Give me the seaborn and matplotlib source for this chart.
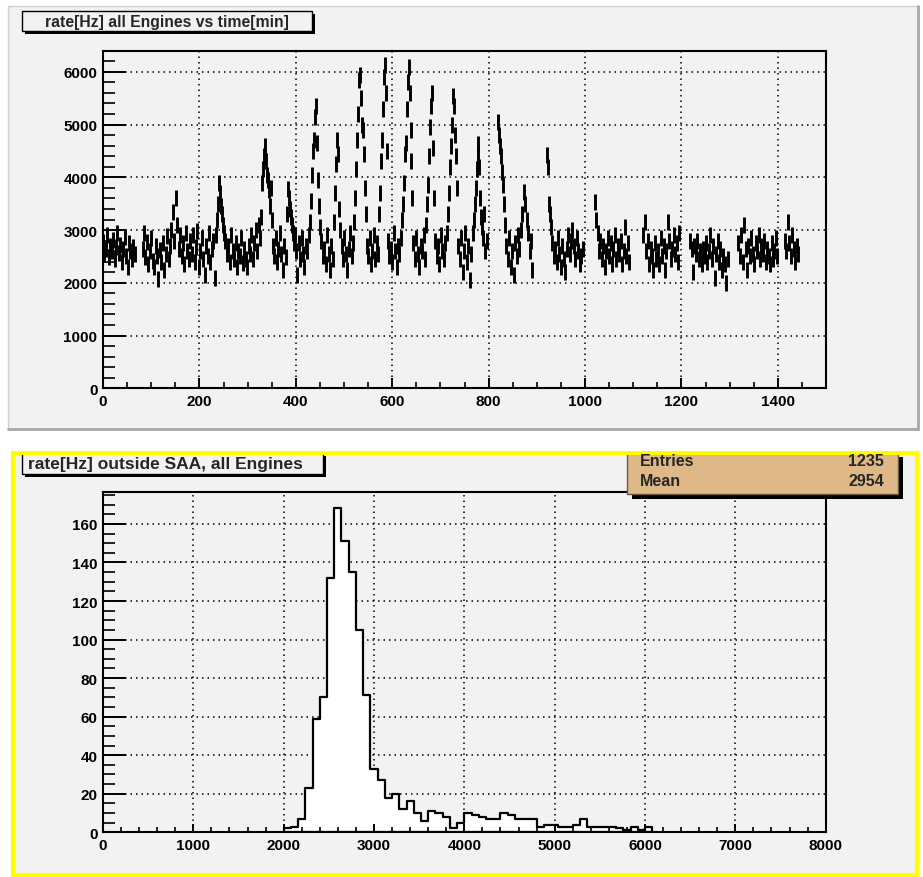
import numpy as np
import pandas as pd
import matplotlib
matplotlib.use("Agg")
import matplotlib.pyplot as plt
import seaborn as sns
from matplotlib.patches import Rectangle
from matplotlib.ticker import MultipleLocator

# ---------------- data ----------------
time_min = [
    0, 3, 6, 9, 12, 15, 18, 21, 24, 27, 30, 33, 36, 39, 42, 45, 48, 51, 54, 57, 60, 63, 66,
    82, 85, 88, 91, 94, 97, 100, 103, 106, 109, 112, 115, 118, 121, 124, 127, 130, 133, 136, 139,
    142, 145, 148, 151, 154, 157, 160, 163, 166, 169, 172, 175, 178, 181, 184, 187, 190, 193, 196,
    199, 202, 205, 208, 211, 214, 217, 220, 223, 226, 229, 232,
    235, 237, 239, 241, 243, 245, 247, 249, 251,
    254, 257, 260, 263, 266, 269, 272, 275, 278, 281, 284, 287, 290, 293, 296, 299, 302, 305, 308,
    311, 314, 317, 320, 323, 326,
    328, 330, 332, 334, 336, 338, 340, 342, 344, 346, 348, 350,
    352, 355, 358, 361, 364, 367, 370, 373, 376, 379,
    382, 384, 386, 388, 390, 392, 394, 396, 398,
    400, 403, 406, 409, 412, 415, 418, 421, 424, 427,
    430, 432, 434, 436, 438, 440, 442, 444, 446, 448, 450,
    453, 456, 459, 462, 465, 468, 471, 474, 477,
    480, 482, 484, 486, 488, 490, 492,
    495, 498, 501, 504, 507, 510, 513, 516, 519,
    521, 523, 525, 527, 529, 531, 533, 535, 537, 539, 541, 543, 545,
    547, 550, 553, 556, 559, 562, 565, 568, 571,
    573, 575, 577, 579, 581, 583, 585, 587, 589,
    591, 594, 597, 600, 603, 606, 609, 612, 615, 618,
    620, 622, 624, 626, 628, 630, 632, 634, 636, 638, 640, 642,
    644, 647, 650, 653, 656, 659, 662, 665, 668,
    670, 672, 674, 676, 678, 680, 682, 684, 686,
    689, 692, 695, 698, 701, 704, 707, 710, 713,
    716, 718, 720, 722, 724, 726, 728, 730, 732, 734,
    737, 740, 743, 746, 749, 752, 755, 758, 761, 764,
    767, 769, 771, 773, 775, 777, 779, 781, 783, 785, 787, 789, 791,
    793, 796,
    820, 822, 824, 826, 828, 830, 832, 834,
    837, 840, 843, 846, 849, 852, 855, 858, 861, 864, 867, 870, 873, 876, 879, 882, 885, 888, 891,
    921, 923, 925, 927, 929,
    932, 935, 938, 941, 944, 947, 950, 953, 956, 959, 962, 965, 968, 971, 974, 977, 980, 983, 986,
    989, 992, 995,
    1021, 1023, 1026, 1029, 1032, 1035, 1038, 1041, 1044, 1047, 1050, 1053, 1056, 1059, 1062, 1065,
    1068, 1071, 1074, 1077, 1080, 1083, 1086, 1089, 1092,
    1121, 1124, 1127, 1130, 1133, 1136, 1139, 1142, 1145, 1148, 1151, 1154, 1157, 1160, 1163, 1166,
    1169, 1172, 1175, 1178, 1181, 1184, 1187, 1190, 1193, 1196,
    1218, 1221, 1224, 1227, 1230, 1233, 1236, 1239, 1242, 1245, 1248, 1251, 1254, 1257, 1260, 1263,
    1266, 1269, 1272, 1275, 1278, 1281, 1284, 1287, 1290, 1293, 1296,
    1318, 1321, 1324, 1327, 1330, 1333, 1336, 1339, 1342, 1345, 1348, 1351, 1354, 1357, 1360, 1363,
    1366, 1369, 1372, 1375, 1378, 1381, 1384, 1387, 1390, 1393, 1396, 1399,
    1415, 1418, 1421, 1424, 1427, 1430, 1433, 1436, 1439, 1441,
]
rate_hz = [
    2780, 2550, 2650, 2900, 2480, 2700, 2600, 2820, 2450, 2680, 2950, 2560, 2720, 2400, 2640, 2870, 2500, 2300, 2760, 2600, 2450, 2680, 2550,
    2650, 2950, 2480, 2780, 2350, 2600, 2850, 2420, 2300, 2700, 2500, 2080, 2620, 2400, 2750, 2250, 2550, 2880, 2450, 2700,
    3000, 3350, 2800, 3600, 3100, 2650, 2900, 2500, 2750, 2350, 2950, 2600, 2450, 2800, 2550, 2900, 2400, 2680, 2980,
    2300, 2600, 2850, 2450, 2150, 2700, 2500, 2950, 2400, 2650, 2800, 2100,
    2900, 3200, 3500, 3900, 3700, 3450, 3300, 3100, 2950,
    2800, 2550, 2700, 2400, 2900, 2600, 2450, 2750, 2300, 2600, 2500, 2850, 2380, 2650, 2450, 2300, 2700, 2550, 2900,
    2450, 2750, 3000, 2600, 3100, 2850,
    3250, 3900, 4150, 4400, 4600, 4300, 4050, 3950, 3750, 3450, 3800, 3200,
    2700, 2500, 2850, 2400, 2650, 2950, 2550, 2250, 2700, 2480,
    3300, 3780, 3600, 3400, 3250, 3100, 2950, 2750, 2900,
    2600, 2150, 2750, 2450, 2850, 2550, 2300, 2700, 2600, 2900,
    3150, 3550, 4050, 4500, 4700, 5150, 5360, 4650, 3950, 3450, 3050,
    2800, 2500, 2650, 2350, 2900, 2550, 2250, 2700, 2450,
    3150, 3700, 4250, 4700, 4450, 3400, 3000,
    2700, 2450, 2850, 2550, 2250, 2650, 2950, 2500, 2750,
    3150, 3600, 4150, 4700, 5200, 5850, 5930, 5500, 5000, 4900, 4450, 3800, 3300,
    2700, 2500, 2850, 2350, 2600, 2900, 2450, 2750, 2550,
    3300, 3700, 4300, 4700, 5300, 5900, 6120, 5600, 4500,
    2800, 2500, 2650, 2400, 2950, 2600, 2300, 2700, 2550, 2850,
    3200, 3500, 3900, 4450, 4650, 5300, 5800, 6090, 5600, 4900, 4300, 3600,
    2750, 2450, 2850, 2550, 2300, 2700, 2600, 2900, 2450,
    3100, 3500, 3850, 4400, 4950, 5350, 5600, 4550, 3600,
    2800, 2500, 2700, 2350, 2900, 2600, 2450, 2750, 2950,
    3300, 3700, 4200, 4600, 5000, 5550, 5350, 4800, 4400, 3800,
    2700, 2450, 2850, 2200, 2600, 2950, 2400, 2700, 2050, 2550,
    2950, 3200, 3500, 3800, 4150, 4450, 4637, 4200, 3600, 3250, 3050, 2850, 3300,
    2600, 2800,
    5050, 4800, 4600, 4400, 4100, 3850, 3500, 3100,
    2700, 2450, 2850, 2300, 2600, 2150, 2750, 2500, 2900, 2650, 3000, 3300, 3718, 3500, 3200, 2950, 2600, 2800, 2250,
    4420, 4200, 3500, 3300, 3050,
    2750, 2500, 2650, 2400, 2850, 2550, 2300, 2700, 2450, 2200, 2650, 2900, 2550, 2800, 3000, 2700, 2450, 2850, 2600,
    2350, 2500, 2650,
    3530, 3200, 2950, 2600, 2800, 2450, 2700, 2300, 2600, 2850, 2500, 2750, 2350, 2650, 2900, 2450,
    2700, 2550, 2800, 2350, 2600, 3050, 2500, 2750, 2400,
    2900, 3150, 2600, 2800, 2350, 2650, 2500, 2250, 2750, 2450, 2600, 2350, 2850, 2500, 2700, 2250,
    2600, 3150, 2800, 2450, 2650, 2900, 2550, 2750, 2400, 2950,
    2800, 2650, 2200, 2700, 2550, 2800, 2450, 2600, 2350, 2650, 2500, 2750, 2400, 2600, 2900, 2450,
    2700, 2100, 2550, 2800, 2400, 2650, 2250, 2500, 2350, 2000, 2450,
    2750, 2500, 2900, 2400, 3100, 2650, 2250, 2700, 2500, 2850, 2550, 2350, 2750, 2600, 2900, 2450,
    2700, 2550, 2800, 2400, 2650, 2500, 2350, 2750, 2450, 2600, 2850, 2500,
    2800, 2600, 3150, 2750, 2500, 2900, 2650, 2400, 2700, 2550,
]

hist_first_edge = 2000
hist_bin_width = 80
hist_counts = [
    2, 3, 7, 23, 59, 70, 132, 168, 151, 135, 105, 71, 33, 27, 18, 20, 12, 16, 10, 6,
    11, 10, 8, 2, 5, 10, 9, 8, 7, 7, 10, 9, 7, 7, 7, 3, 4, 4, 3, 3,
    4, 7, 3, 3, 3, 3, 2, 1, 3, 1, 3,
]
stats_labels = ["Entries", "Mean"]
stats_values = ["1235", "2954"]
title_top = "rate[Hz] all Engines vs time[min]"
title_bottom = "rate[Hz] outside SAA, all Engines"

# ---------------- figure ----------------
W, H = 923, 878
sns.set_style("ticks")
plt.rcParams["font.family"] = ["Liberation Sans", "DejaVu Sans"]
plt.rcParams["axes.axisbelow"] = False
fig = plt.figure(figsize=(W / 100, H / 100), dpi=100)
fig.patch.set_facecolor("white")

PAD_BG = "#f2f2f2"


def fx(px):
    return px / W


def fy(py):
    return 1 - py / H


def frect(x0, y0, x1, y1, **kw):
    r = Rectangle((fx(x0), fy(y1)), fx(x1) - fx(x0), fy(y0) - fy(y1),
                  transform=fig.transFigure, **kw)
    fig.add_artist(r)
    return r


# pads
frect(8, 7, 918, 430, facecolor=PAD_BG, edgecolor="#d0d0d0", linewidth=1, zorder=-2)
fig.add_artist(plt.Line2D([fx(8), fx(918)], [fy(430), fy(430)], transform=fig.transFigure,
                          color="#a8a8a8", linewidth=2, zorder=-1))
fig.add_artist(plt.Line2D([fx(918), fx(918)], [fy(7), fy(430)], transform=fig.transFigure,
                          color="#a8a8a8", linewidth=2, zorder=-1))
frect(13, 454, 917, 876, facecolor=PAD_BG, edgecolor="#ffff00", linewidth=3, zorder=-2)


def make_axes(rect_px, xlim, ylim, xmaj, xmin, ymaj, ymin):
    x0, y0, x1, y1 = rect_px
    pos = [fx(x0), fy(y1), fx(x1) - fx(x0), fy(y0) - fy(y1)]
    bg = fig.add_axes(pos, zorder=1)
    ax = fig.add_axes(pos, zorder=2)
    for a in (bg, ax):
        a.set_xlim(*xlim)
        a.set_ylim(*ylim)
        a.xaxis.set_major_locator(MultipleLocator(xmaj))
        a.xaxis.set_minor_locator(MultipleLocator(xmin))
        a.yaxis.set_major_locator(MultipleLocator(ymaj))
        a.yaxis.set_minor_locator(MultipleLocator(ymin))
    bg.set_facecolor(PAD_BG)
    bg.grid(True, which="major", color="black", linestyle=(0, (1, 2.6)), linewidth=1.1)
    bg.tick_params(which="both", length=0, labelbottom=False, labelleft=False)
    for s in bg.spines.values():
        s.set_visible(False)
    ax.patch.set_visible(False)
    return ax


def finish(ax, xlim, ylim, xtick_len, ytick_len):
    ax.set_xlim(*xlim)
    ax.set_ylim(*ylim)
    ax.set_xlabel("")
    ax.set_ylabel("")
    ax.set_axisbelow(False)
    for s in ax.spines.values():
        s.set_visible(True)
        s.set_color("black")
        s.set_linewidth(1.5)
    ax.tick_params(which="both", bottom=True, left=True, top=False, right=False)
    ax.tick_params(which="major", direction="in", width=1.4, colors="black",
                   labelsize=11, pad=4)
    ax.tick_params(which="minor", direction="in", width=1.2, colors="black")
    ax.tick_params(axis="x", which="major", length=xtick_len[0])
    ax.tick_params(axis="x", which="minor", length=xtick_len[1])
    ax.tick_params(axis="y", which="major", length=ytick_len[0])
    ax.tick_params(axis="y", which="minor", length=ytick_len[1])
    for lab in ax.get_xticklabels() + ax.get_yticklabels():
        lab.set_fontweight("bold")


# ---------- top: time series ----------
ax1 = make_axes((103, 51.7, 826, 389.3), (0, 1500), (0, 6400), 200, 50, 1000, 200)
ts = pd.DataFrame({"time": time_min, "rate": rate_hz})
sns.scatterplot(data=ts, x="time", y="rate", marker="|", s=125, color="black",
                linewidth=2.1, ax=ax1, legend=False, zorder=3)
finish(ax1, (0, 1500), (0, 6400), (7, 4), (16.5, 8.6))

# ---------- bottom: histogram ----------
ax2 = make_axes((103, 493.3, 825.7, 833.3), (0, 8000), (0, 176.4), 1000, 200, 20, 5)
edges = (hist_first_edge + hist_bin_width * np.arange(len(hist_counts) + 1)).tolist()
centers = [e + hist_bin_width / 2 for e in edges[:-1]]
hist_df = pd.DataFrame({"rate": centers, "n": hist_counts})
sns.histplot(data=hist_df, x="rate", weights="n", bins=edges, element="step", fill=True,
             facecolor="white", edgecolor="black", linewidth=1.6, alpha=1, ax=ax2, zorder=1)
finish(ax2, (0, 8000), (0, 176.4), (6, 3.5), (16.5, 8.6))

# ---------- title boxes ----------
frect(25, 15, 315, 35, facecolor="black", edgecolor="black", linewidth=0, zorder=5)
frect(22, 12, 312, 32, facecolor=PAD_BG, edgecolor="black", linewidth=1, zorder=6)
fig.text(fx(167), fy(22.5), title_top, ha="center", va="center", fontsize=11.3,
         fontweight="bold", zorder=7)

frect(25, 457, 326, 478, facecolor="black", edgecolor="black", linewidth=0, zorder=5)
frect(22, 454, 323, 475, facecolor=PAD_BG, edgecolor="black", linewidth=1, zorder=6)
fig.text(fx(28), fy(465), title_bottom, ha="left", va="center", fontsize=12.5,
         fontweight="bold", zorder=7)

# ---------- stats box ----------
frect(632, 458, 903, 500, facecolor="black", edgecolor="black", linewidth=0, zorder=5)
frect(627, 454, 898, 495, facecolor="#deb887", edgecolor="#6b5a40", linewidth=1, zorder=6)
frect(13, 452, 917, 455.5, facecolor="#ffff00", edgecolor="none", linewidth=0, zorder=6.5)
for i, (lab, val) in enumerate(zip(stats_labels, stats_values)):
    yy = 462 + 20 * i
    fig.text(fx(640), fy(yy), lab, ha="left", va="center", fontsize=11.5,
             fontweight="bold", zorder=7)
    fig.text(fx(884), fy(yy), val, ha="right", va="center", fontsize=11.5,
             fontweight="bold", zorder=7)

fig.savefig("out.png", dpi=100, facecolor="white")
